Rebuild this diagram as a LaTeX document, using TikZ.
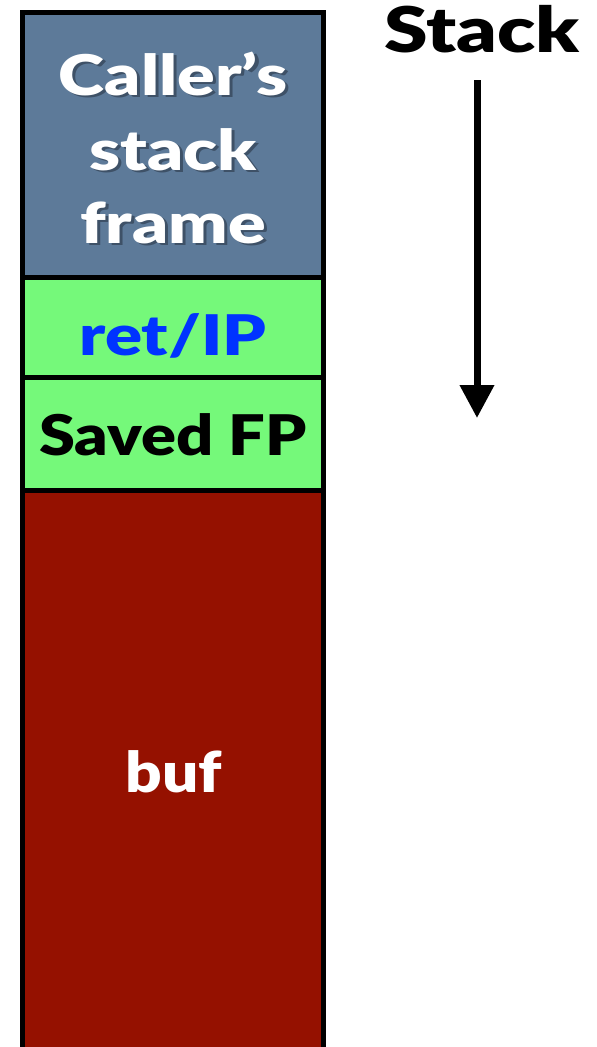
\documentclass[tikz,border=0pt]{standalone}
\usepackage{fontspec}
\setmainfont{Lato}[BoldFont={Lato Black}]
\usetikzlibrary{arrows.meta}
\definecolor{slate}{HTML}{5D7A99}
\definecolor{shadowc}{HTML}{3E5167}
\definecolor{cellgreen}{HTML}{75F97A}
\definecolor{bufred}{HTML}{951100}
\definecolor{retblue}{HTML}{0033FF}
\newcommand{\shtext}[1]{\makebox[0pt][l]{\hspace{2.5pt}\raisebox{-2.5pt}{\textcolor{shadowc}{#1}}}#1}
\newcommand{\wide}[2]{\scalebox{#1}[1]{#2}}
\begin{document}
\begin{tikzpicture}[x=1pt,y=-1pt,
  cell/.style={draw=black, line width=5pt, rectangle, inner sep=0pt, outer sep=0pt,
    minimum width=301pt, anchor=north west},
  lbl/.style={font=\bfseries\fontsize{56}{74}\selectfont, align=center, anchor=base, inner sep=0pt}
]
\clip (0,0) rectangle (597,1047);
\fill[white] (0,0) rectangle (597,1047);
\node[cell, fill=slate, minimum height=265pt] (caller) at (22.5,12.5) {};
\node[cell, fill=cellgreen, minimum height=100pt] (ret) at (22.5,277.5) {};
\node[cell, fill=cellgreen, minimum height=112.5pt] (saved) at (22.5,377.5) {};
\node[cell, fill=bufred, minimum height=600pt] (buf) at (22.5,490) {};
\node[lbl, text=white] (t1) at (173,95) {\wide{1.25}{\shtext{Caller’s}}};
\node[lbl, text=white] (t2) at (173,170) {\wide{1.25}{\shtext{stack}}};
\node[lbl, text=white] (t3) at (173,243) {\wide{1.25}{\shtext{frame}}};
\node[lbl, text=retblue] (tret) at (173,355) {\wide{1.23}{ret/IP}};
\node[lbl, text=black] (tsaved) at (173,455) {\wide{1.16}{Saved FP}};
\node[lbl, text=white] (tbuf) at (174,792) {\wide{1.14}{buf}};
\node[lbl, text=black, font=\bfseries\fontsize{63}{70}\selectfont] (stack) at (482,52) {\wide{1.25}{Stack}};
\coordinate (a1) at (477,80);
\coordinate (a2) at (477,418);
\draw[line width=7pt, -{Triangle[width=33pt,length=33pt]}] (a1) -- (a2);
\end{tikzpicture}
\end{document}
